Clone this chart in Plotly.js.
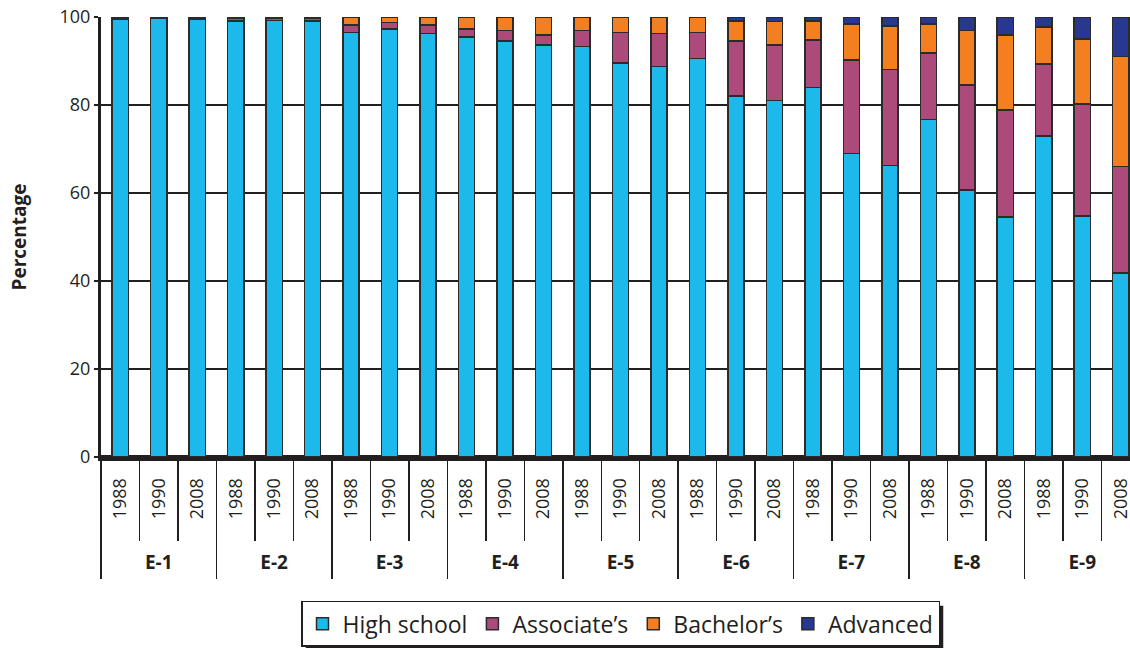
<!DOCTYPE html>
<html>
<head>
<meta charset="utf-8">
<script src="https://cdn.plot.ly/plotly-3.0.1.min.js"></script>
<style>
  html, body { margin: 0; padding: 0; overflow: hidden; background: #fff; }
  #chart { width: 1140px; height: 648px; }
</style>
</head>
<body>
<div id="chart"></div>
<script>
// Categories
const groups = ['E-1', 'E-2', 'E-3', 'E-4', 'E-5', 'E-6', 'E-7', 'E-8', 'E-9'];
const years = ['1988', '1990', '2008'];

// Series values (percent), 3 years per grade, in group order
const highSchool = [
  99.6, 99.7, 99.6,
  99.1, 99.2, 99.1,
  96.5, 97.3, 96.3,
  95.5, 94.6, 93.6,
  93.3, 89.5, 88.7,
  90.6, 82.1, 81.0,
  84.0, 69.0, 66.2,
  76.7, 60.7, 54.5,
  73.0, 54.8, 41.8
];
const associates = [
  0.3, 0.2, 0.3,
  0.7, 0.6, 0.7,
  1.7, 1.5, 1.9,
  1.8, 2.3, 2.3,
  3.6, 7.0, 7.6,
  5.9, 12.5, 12.6,
  10.8, 21.2, 21.9,
  15.1, 23.8, 24.4,
  16.3, 25.4, 24.2
];
const bachelors = [
  0.1, 0.1, 0.1,
  0.2, 0.2, 0.2,
  1.8, 1.2, 1.8,
  2.7, 3.1, 4.1,
  3.1, 3.5, 3.7,
  3.5, 4.5, 5.4,
  4.3, 8.2, 9.9,
  6.6, 12.4, 17.0,
  8.4, 14.8, 25.0
];
const advanced = [
  0, 0, 0,
  0, 0, 0,
  0, 0, 0,
  0, 0, 0,
  0, 0, 0,
  0, 0.9, 1.0,
  0.9, 1.6, 2.0,
  1.6, 3.1, 4.1,
  2.3, 5.0, 9.0
];

const seriesNames = ['High school', 'Associate\u2019s', 'Bachelor\u2019s', 'Advanced'];
const seriesColors = ['#1cb9ea', '#ab4a7b', '#f47f20', '#283891'];

// Build unique category keys (grade + year) and their year tick labels
const xKeys = [], xYearText = [];
groups.forEach(g => years.forEach(y => { xKeys.push(g + ' ' + y); xYearText.push(y); }));

const values = [highSchool, associates, bachelors, advanced];
const traces = values.map((v, i) => ({
  type: 'bar',
  name: seriesNames[i],
  x: xKeys,
  y: v,
  xaxis: 'x',
  yaxis: 'y',
  marker: { color: seriesColors[i], line: { color: '#2b2b2b', width: 1.5 } },
  hoverinfo: 'skip'
}));

// invisible helper trace that defines the grade (group) axis categories
traces.push({
  type: 'scatter',
  mode: 'markers',
  x: groups,
  y: groups.map(() => null),
  xaxis: 'x2',
  yaxis: 'y',
  showlegend: false,
  hoverinfo: 'skip'
});

const dark = '#231f20';
const fontFam = '"Open Sans", "Noto Sans", sans-serif';
const M = { l: 101, r: 0, t: 17, b: 191 };
const W = 1140, H = 648;

const layout = {
  width: W,
  height: H,
  margin: M,
  paper_bgcolor: '#fff',
  plot_bgcolor: '#fff',
  barmode: 'stack',
  bargap: 0.58,
  font: { family: fontFam, size: 18, color: dark },
  showlegend: true,
  legend: {
    orientation: 'h',
    x: 0.5, xanchor: 'center',
    y: -0.327, yanchor: 'top',
    bordercolor: dark, borderwidth: 1.5,
    bgcolor: '#fff',
    font: { family: fontFam, size: 23, color: dark },
    traceorder: 'normal',
    itemwidth: 30
  },
  xaxis: {
    type: 'category',
    categoryorder: 'array',
    categoryarray: xKeys,
    tickmode: 'array',
    tickvals: xKeys,
    ticktext: xYearText,
    tickangle: -90,
    tickfont: { family: fontFam, size: 18, color: dark },
    ticks: 'outside',
    tickson: 'boundaries',
    ticklen: 80,
    tickwidth: 1.5,
    tickcolor: dark,
    ticklabelstandoff: 10,
    showline: true,
    linecolor: dark,
    linewidth: 4,
    showgrid: false,
    zeroline: false,
    fixedrange: true
  },
  xaxis2: {
    type: 'category',
    overlaying: 'x',
    anchor: 'y',
    side: 'bottom',
    categoryorder: 'array',
    categoryarray: groups,
    range: [-0.5, groups.length - 0.5],
    tickfont: { family: fontFam, size: 19, color: dark, weight: 'bold' },
    ticks: 'outside',
    tickson: 'boundaries',
    ticklen: 121,
    tickwidth: 1.5,
    tickcolor: dark,
    ticklabelstandoff: 92,
    showline: false,
    showgrid: false,
    zeroline: false,
    fixedrange: true
  },
  yaxis: {
    range: [0, 100],
    tickvals: [0, 20, 40, 60, 80, 100],
    ticks: 'outside',
    ticklen: 4,
    tickwidth: 1.5,
    tickcolor: dark,
    tickfont: { family: fontFam, size: 18, color: dark },
    showline: true,
    linecolor: dark,
    linewidth: 3,
    showgrid: true,
    gridcolor: dark,
    gridwidth: 2,
    zeroline: true,
    zerolinecolor: dark,
    zerolinewidth: 4,
    title: {
      text: 'Percentage',
      font: { family: fontFam, size: 19, color: dark, weight: 'bold' },
      standoff: 28
    },
    automargin: false,
    fixedrange: true
  }
};

const gd = document.getElementById('chart');
Plotly.newPlot(gd, traces, layout, { displayModeBar: false, staticPlot: true }).then(() => {
  // Drop shadow behind the legend box, sized from the rendered legend
  const bg = gd.querySelector('.legend .bg');
  if (!bg) return;
  const r = bg.getBoundingClientRect();
  const c = gd.getBoundingClientRect();
  const pw = W - M.l - M.r, ph = H - M.t - M.b;
  const off = 4;
  const toX = px => (px - c.left - M.l) / pw;
  const toY = py => (H - M.b - (py - c.top)) / ph;
  Plotly.relayout(gd, {
    shapes: [{
      type: 'rect', xref: 'paper', yref: 'paper', layer: 'above',
      x0: toX(r.left + off), x1: toX(r.right + off),
      y0: toY(r.bottom + off), y1: toY(r.top + off),
      fillcolor: dark, line: { width: 0 }
    }]
  });
});
</script>
</body>
</html>
